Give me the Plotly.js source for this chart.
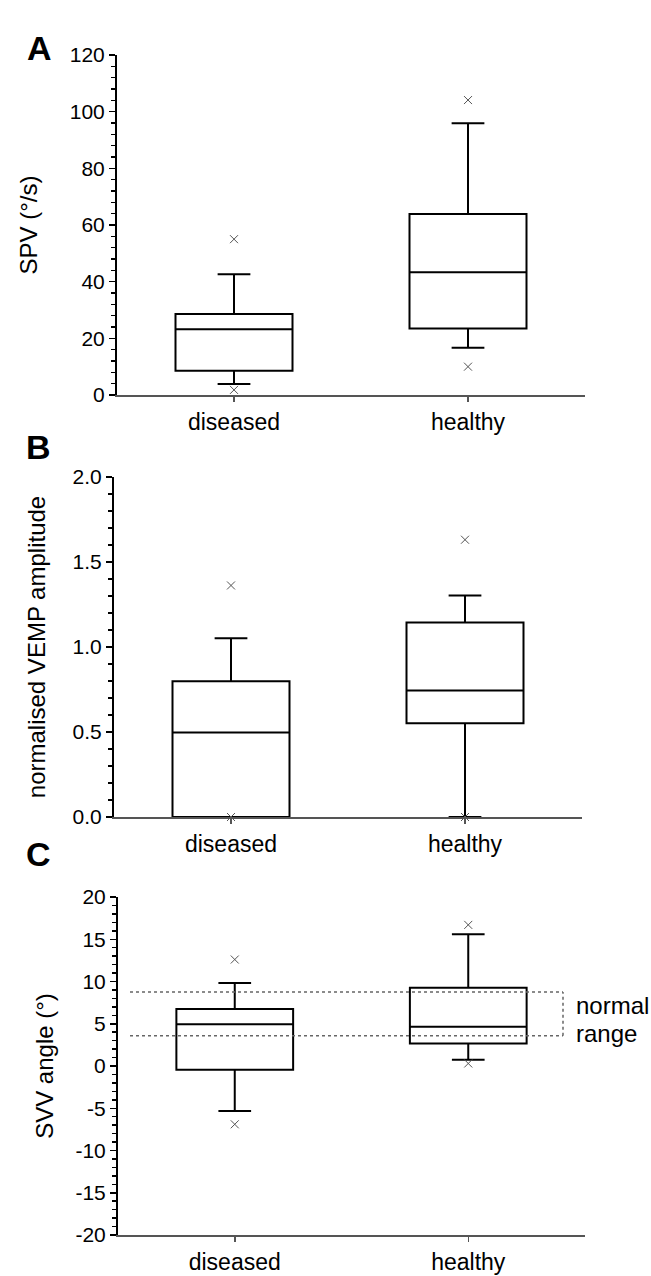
<!DOCTYPE html>
<html><head><meta charset="utf-8">
<script src="https://cdn.plot.ly/plotly-3.0.1.min.js"></script>
<style>body{margin:0;background:#fff}#chart{width:651px;height:1276px}</style>
</head><body><div id="chart"></div>
<script>
const categories = ['diseased', 'healthy'];

// Panel A: SPV (°/s)
const spvQ1 = [8.6, 23.5];
const spvMedian = [23.2, 43.3];
const spvQ3 = [28.6, 63.9];
const spvLowerWhisker = [3.9, 16.7];
const spvUpperWhisker = [42.6, 95.9];
const spvOutlierGroups = ['diseased', 'diseased', 'healthy', 'healthy'];
const spvOutliers = [55, 1.8, 104.1, 10];

// Panel B: normalised VEMP amplitude
const vempQ1 = [0.0, 0.552];
const vempMedian = [0.497, 0.744];
const vempQ3 = [0.799, 1.144];
const vempLowerWhisker = [0.0, 0.0];
const vempUpperWhisker = [1.052, 1.303];
const vempOutlierGroups = ['diseased', 'diseased', 'healthy', 'healthy'];
const vempOutliers = [1.362, 0.0, 1.631, 0.0];

// Panel C: SVV angle (°)
const svvQ1 = [-0.43, 2.67];
const svvMedian = [4.95, 4.64];
const svvQ3 = [6.76, 9.27];
const svvLowerWhisker = [-5.34, 0.75];
const svvUpperWhisker = [9.82, 15.6];
const svvOutlierGroups = ['diseased', 'diseased', 'healthy', 'healthy'];
const svvOutliers = [12.6, -6.9, 16.7, 0.3];
const normalRange = [3.58, 8.76];
const svvTickVals = [-20, -15, -10, -5, 0, 5, 10, 15, 20];
const svvTickText = ['-20', '-15', '-10', '-5', '0', '5', '10', '15', '20'];

const FONT = 'Liberation Sans, Arial, sans-serif';

function boxTrace(xa, ya, q1, med, q3, lo, hi) {
  return {
    type: 'box', xaxis: xa, yaxis: ya, x: categories,
    q1: q1, median: med, q3: q3, lowerfence: lo, upperfence: hi,
    boxpoints: false, width: 0.5, whiskerwidth: 0.28,
    fillcolor: '#ffffff', line: {color: '#000000', width: 2},
    showlegend: false, hoverinfo: 'skip'
  };
}
function outlierTrace(xa, ya, xs, ys) {
  return {
    type: 'scatter', mode: 'markers', xaxis: xa, yaxis: ya, x: xs, y: ys,
    cliponaxis: false,
    marker: {symbol: 'x-thin-open', size: 8, color: '#555', line: {color: '#555', width: 1}},
    showlegend: false, hoverinfo: 'skip'
  };
}

const data = [
  boxTrace('x', 'y', spvQ1, spvMedian, spvQ3, spvLowerWhisker, spvUpperWhisker),
  outlierTrace('x', 'y', spvOutlierGroups, spvOutliers),
  boxTrace('x2', 'y2', vempQ1, vempMedian, vempQ3, vempLowerWhisker, vempUpperWhisker),
  outlierTrace('x2', 'y2', vempOutlierGroups, vempOutliers),
  boxTrace('x3', 'y3', svvQ1, svvMedian, svvQ3, svvLowerWhisker, svvUpperWhisker),
  outlierTrace('x3', 'y3', svvOutlierGroups, svvOutliers)
];

function xAxis(domain, anchor) {
  return {
    domain: domain, anchor: anchor, type: 'category', range: [-0.5, 1.5],
    showline: true, linecolor: '#555', linewidth: 2, showgrid: false, zeroline: false,
    ticks: 'outside', ticklen: 5, tickwidth: 1.5, tickcolor: '#555',
    tickfont: {family: FONT, size: 23, color: '#000'}, automargin: false, fixedrange: true
  };
}
function yAxis(domain, anchor, range, dtick, minorDtick, title, fmt, standoff) {
  return {
    domain: domain, anchor: anchor, range: range, dtick: dtick, tick0: 0,
    tickformat: fmt,
    showline: true, linecolor: '#000', linewidth: 2, showgrid: false, zeroline: false,
    ticks: 'outside', ticklen: 6, tickwidth: 1.5, tickcolor: '#000',
    minor: {dtick: minorDtick, ticks: 'outside', ticklen: 4, tickwidth: 1.5, tickcolor: '#000', showgrid: false},
    tickfont: {family: FONT, size: 21, color: '#000'},
    title: {text: title, font: {family: FONT, size: 24, color: '#000'}, standoff: standoff},
    automargin: false, fixedrange: true
  };
}

const H = 1276, W = 651;
const px = v => v / W;
const py = v => 1 - v / H;

const yaxis3 = yAxis([py(1235), py(897)], 'x3', [-20, 20], 5, 1, 'SVV angle (°)', 'd', 15);
yaxis3.tickmode = 'array';
yaxis3.tickvals = svvTickVals;
yaxis3.ticktext = svvTickText;
yaxis3.minor = {tickmode: 'linear', tick0: 0, dtick: 1, ticks: 'outside', ticklen: 4, tickwidth: 1.5, tickcolor: '#000', showgrid: false};

const layout = {
  width: W, height: H,
  margin: {l: 0, r: 0, t: 0, b: 0},
  paper_bgcolor: '#fff', plot_bgcolor: 'rgba(0,0,0,0)',
  showlegend: false,
  xaxis: xAxis([px(117), px(585)], 'y'),
  yaxis: yAxis([py(395), py(55)], 'x', [0, 120], 20, 4, 'SPV (°/s)', 'd', 25),
  xaxis2: xAxis([px(114), px(582)], 'y2'),
  yaxis2: yAxis([py(817), py(477)], 'x2', [0, 2], 0.5, 0.1, 'normalised VEMP amplitude', '.1f', 20),
  xaxis3: xAxis([px(118), px(585)], 'y3'),
  yaxis3: yaxis3,
  shapes: [
    {type: 'line', xref: 'paper', yref: 'y3', x0: px(130), x1: px(563), y0: normalRange[1], y1: normalRange[1],
     line: {color: '#666', width: 1.5, dash: 'dot'}},
    {type: 'line', xref: 'paper', yref: 'y3', x0: px(130), x1: px(563), y0: normalRange[0], y1: normalRange[0],
     line: {color: '#666', width: 1.5, dash: 'dot'}},
    {type: 'line', xref: 'paper', yref: 'y3', x0: px(563), x1: px(563), y0: normalRange[0], y1: normalRange[1],
     line: {color: '#666', width: 1.5, dash: 'dot'}}
  ],
  annotations: [
    {text: '<b>A</b>', xref: 'paper', yref: 'paper', x: px(25), y: py(27), showarrow: false,
     font: {family: FONT, size: 34, color: '#000'}},
    {text: '<b>B</b>', xref: 'paper', yref: 'paper', x: px(24), y: py(447), showarrow: false,
     font: {family: FONT, size: 34, color: '#000'}},
    {text: '<b>C</b>', xref: 'paper', yref: 'paper', x: px(24), y: py(875), showarrow: false,
     font: {family: FONT, size: 34, color: '#000'}},
    {text: 'normal', xref: 'paper', yref: 'y3', x: px(574), y: 7.2, xanchor: 'left', showarrow: false,
     font: {family: FONT, size: 24, color: '#000'}},
    {text: 'range', xref: 'paper', yref: 'y3', x: px(574), y: 3.9, xanchor: 'left', showarrow: false,
     font: {family: FONT, size: 24, color: '#000'}}
  ]
};

Plotly.newPlot('chart', data, layout, {staticPlot: true, displayModeBar: false});
</script>
</body></html>
